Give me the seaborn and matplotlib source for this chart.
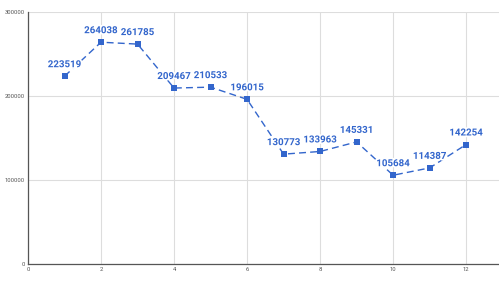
import matplotlib
matplotlib.use("Agg")
import matplotlib.pyplot as plt
import matplotlib.patheffects as pe
import pandas as pd
import seaborn as sns

x_vals = [1, 2, 3, 4, 5, 6, 7, 8, 9, 10, 11, 12]
y_vals = [223519, 264038, 261785, 209467, 210533, 196015,
          130773, 133963, 145331, 105684, 114387, 142254]
x_ticks = [0, 2, 4, 6, 8, 10, 12]
y_ticks = [0, 100000, 200000, 300000]

blue = "#3366cc"

sns.set_theme(style="white")
plt.rcParams["font.family"] = ["Roboto", "DejaVu Sans"]

df = pd.DataFrame({"x": x_vals, "y": y_vals})

fig = plt.figure(figsize=(4.99, 2.85), dpi=100)
ax = fig.add_axes([28 / 499, 1 - 264 / 285, 1 - 28 / 499, 252 / 285])

sns.lineplot(data=df, x="x", y="y", ax=ax, color=blue, linewidth=1.0,
             linestyle=(0, (5, 3)), marker="s", markersize=4.2,
             markeredgewidth=0, zorder=3)

for xv, yv in zip(x_vals, y_vals):
    ax.annotate(str(yv), (xv, yv), xytext=(0, 6.5), textcoords="offset points",
                ha="center", va="baseline", fontsize=7.0, fontweight="bold",
                color=blue, zorder=4,
                path_effects=[pe.withStroke(linewidth=2.5, foreground="white")])

ax.set_xlim(0, 12.9)
ax.set_ylim(0, 300000)
ax.set_xticks(x_ticks)
ax.set_yticks(y_ticks)
ax.set_xticklabels([str(t) for t in x_ticks])
ax.set_yticklabels([str(t) for t in y_ticks])
ax.tick_params(axis="both", length=0, labelsize=4.2, colors="#555555", pad=2.5)
ax.grid(True, color="#dddddd", linewidth=0.8)
ax.set_axisbelow(True)
ax.set_xlabel("")
ax.set_ylabel("")

for side in ["top", "right"]:
    ax.spines[side].set_visible(False)
ax.spines["left"].set_color("#555555")
ax.spines["left"].set_linewidth(0.9)
ax.spines["bottom"].set_color("#555555")
ax.spines["bottom"].set_linewidth(0.9)

fig.savefig("out.png", dpi=100)
